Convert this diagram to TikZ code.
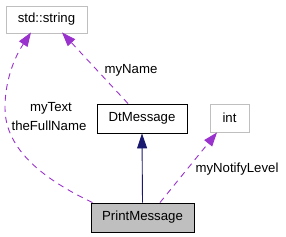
\documentclass[tikz,border=0pt]{standalone}
\usepackage{fontspec}
\setmainfont{Liberation Sans}
\usetikzlibrary{arrows.meta,calc}
\definecolor{usecol}{HTML}{9A32CD}
\definecolor{inhcol}{HTML}{191970}
\definecolor{boxgray}{HTML}{BFBFBF}
\tikzset{
  cls/.style={draw, rectangle, inner sep=0pt, line width=0.9pt, font=\fontsize{13.2}{14}\selectfont, anchor=center},
  extcls/.style={cls, draw=boxgray},
  usage/.style={draw=usecol, line width=0.9pt, dash pattern=on 6pt off 5pt, -{Triangle[length=14pt,width=10pt,fill=usecol]}},
  inherit/.style={draw=inhcol, line width=0.9pt, -{Triangle[length=15pt,width=10pt,fill=inhcol]}},
  lbl/.style={font=\fontsize{13.2}{14}\selectfont, inner sep=0pt}
}
\begin{document}
\begin{tikzpicture}[x=1pt,y=-1pt]
\useasboundingbox (0,0) rectangle (286,237);
\node[extcls, minimum width=81pt, minimum height=27pt] (str) at (46.5,19.5) {std::string};
\node[cls, minimum width=90pt, minimum height=29pt] (dt) at (142,118.5) {DtMessage};
\node[extcls, minimum width=39pt, minimum height=28pt] (int) at (229.5,118) {int};
\node[cls, fill=boxgray, minimum width=103pt, minimum height=29pt] (pm) at (142.5,217.5) {PrintMessage};
\coordinate (dtsrc) at ($(dt.north)+(-14,0)$);
\coordinate (strtipA) at ($(str.south)+(15.5,-1)$);
\coordinate (pmsrcA) at ($(pm.north west)+(2,0)$);
\coordinate (strtipB) at ($(str.south)+(-15.5,-1)$);
\coordinate (pmsrcB) at ($(pm.north)+(17.5,0)$);
\coordinate (inttip) at ($(int.south)+(-12.5,0)$);
\draw[inherit] (pm.north) -- (dt.south);
\draw[usage] (dtsrc) -- (strtipA);
\draw[usage] (pmsrcA) .. controls (45,180) and (5,150) .. (5,108) .. controls (5,75) and (18,52) .. (strtipB);
\draw[usage] (pmsrcB) -- (inttip);
\node[lbl] (lname) at (131,70) {myName};
\node[lbl] (ltext) at (51,108) {myText};
\node[lbl] (lfull) at (49,126) {theFullName};
\node[lbl] (lnot) at (237,169) {myNotifyLevel};
\end{tikzpicture}
\end{document}
